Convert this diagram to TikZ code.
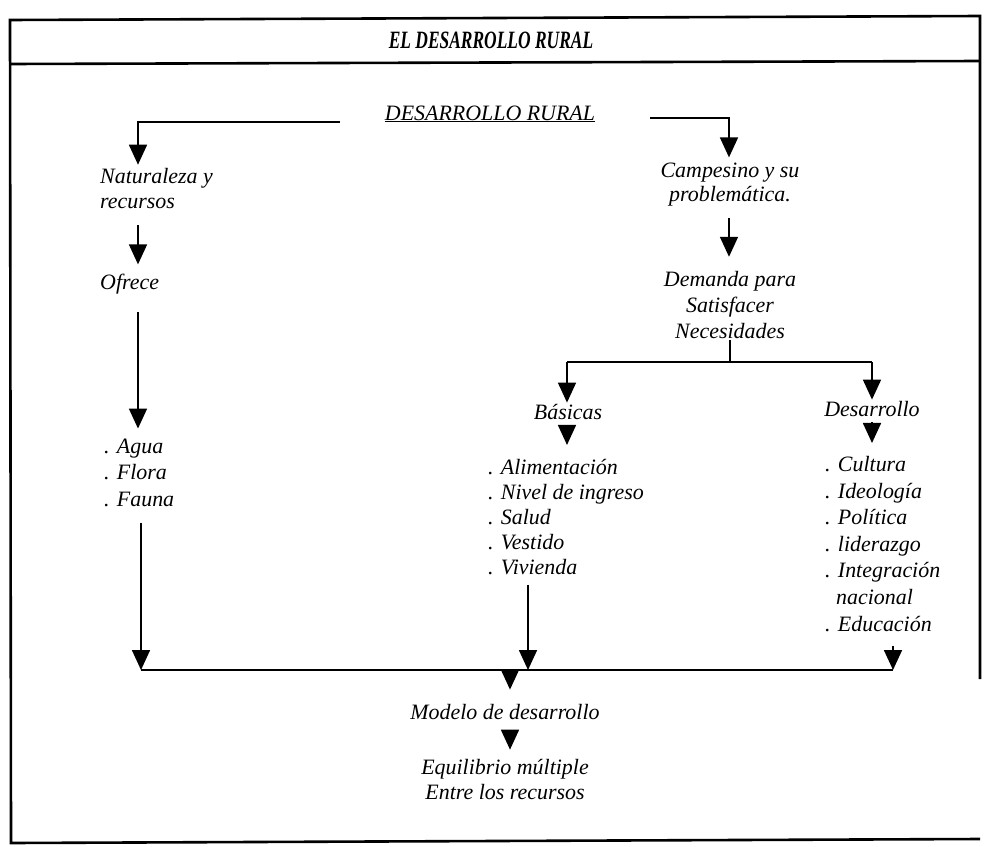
\documentclass[tikz,border=0pt]{standalone}
\usepackage{fontspec}
\setmainfont{Liberation Serif}
\usetikzlibrary{arrows.meta}
\begin{document}
\begin{tikzpicture}[x=1bp,y=-1bp,
  txt/.style={font=\fontsize{22}{25}\selectfont\itshape, inner sep=0pt, align=left},
  ctxt/.style={txt, align=center},
  arr/.style={-{Triangle[width=18bp,length=20bp]}, line width=1.7bp},
  ln/.style={line width=1.7bp},
  framebox/.style={line width=2.6bp}]
\useasboundingbox (0,0) rectangle (984,847);
% frame
\draw[framebox] (980,679) -- (980,16) -- (10,20) -- (11,843) -- (980,839);
\draw[framebox] (10,64) -- (980,61);
\node[font=\fontsize{25}{26}\selectfont\bfseries\itshape, inner sep=0pt] (title) at (491,40) {\scalebox{0.7}[1]{EL DESARROLLO RURAL}};
% nodes
\node[txt, anchor=base] (dr) at (490,120) {\underline{DESARROLLO RURAL}};
\node[txt, anchor=base west] (nat) at (100,208) {Naturaleza y\\recursos};
\node[txt, anchor=base west] (ofr) at (100,289) {Ofrece};
\node[txt, anchor=base west, font=\fontsize{22}{26.5}\selectfont\itshape] (agua) at (104,506) {. Agua\\. Flora\\. Fauna};
\node[ctxt, anchor=base, font=\fontsize{22}{24}\selectfont\itshape] (camp) at (730,201) {Campesino y su\\problemática.};
\node[ctxt, anchor=base, font=\fontsize{22}{26}\selectfont\itshape] (dem) at (730,338) {Demanda para\\Satisfacer\\Necesidades};
\node[txt, anchor=base] (bas) at (568,419) {Básicas};
\node[txt, anchor=base] (des) at (872,416) {Desarrollo};
\node[txt, anchor=base west] (basl) at (488,574) {. Alimentación\\. Nivel de ingreso\\. Salud\\. Vestido\\. Vivienda};
\node[txt, anchor=base west, font=\fontsize{22}{26.7}\selectfont\itshape] (desl) at (825,631) {. Cultura\\. Ideología\\. Política\\. liderazgo\\. Integración\\\phantom{.\ }nacional\\. Educación};
\node[txt, anchor=base] (mod) at (505,719) {Modelo de desarrollo};
\node[ctxt, anchor=base] (eq) at (505,799) {Equilibrio múltiple\\Entre los recursos};
% junction coordinates
\coordinate (l1) at (138,122);
\coordinate (r1) at (729,118);
\coordinate (sp) at (730,362);
\coordinate (spl) at (567,362);
\coordinate (spr) at (872,362);
\coordinate (bl) at (141,670);
\coordinate (br) at (893,670);
\coordinate (bm) at (510,670);
\coordinate (bv) at (528,670);
% connectors
\draw[arr] ([xshift=-45bp]dr.west |- l1) -- (l1) -- ([yshift=3bp]nat.north -| l1);
\draw[arr] ([xshift=55bp]dr.east |- r1) -- (r1) -- ([yshift=5bp]camp.north -| r1);
\draw[arr] ([yshift=-12bp]camp.south -| r1) -- ([yshift=14bp]dem.north -| r1);
\draw[arr] ([yshift=-17bp]nat.south -| l1) -- ([yshift=9bp]ofr.north -| l1);
\draw[arr] ([yshift=-18bp]ofr.south -| l1) -- ([yshift=10bp]agua.north -| l1);
\draw[ln] ([yshift=-2bp]dem.south -| sp) -- (sp);
\draw[ln] (spl) -- (spr);
\draw[arr] (spl) -- ([yshift=1bp]bas.north -| spl);
\draw[arr] (spr) -- ([yshift=1bp]des.north -| spr);
\draw[arr] ([yshift=-6bp]bas.south -| spl) -- ([yshift=14bp]basl.north -| spl);
\draw[arr] ([yshift=-6bp]des.south -| spr) -- ([yshift=13bp]desl.north -| spr);
\draw[arr] ([yshift=-16bp]agua.south -| bl) -- (bl);
\draw[arr] ([yshift=-10bp]basl.south -| bv) -- (bv);
\draw[arr] ([yshift=-14bp]desl.south -| br) -- (br);
\draw[ln] (bl) -- (br);
\draw[arr] (bm) -- ([yshift=14bp]mod.north -| bm);
\draw[arr] ([yshift=-14bp]mod.south -| bm) -- ([yshift=9bp]eq.north -| bm);
\end{tikzpicture}
\end{document}
